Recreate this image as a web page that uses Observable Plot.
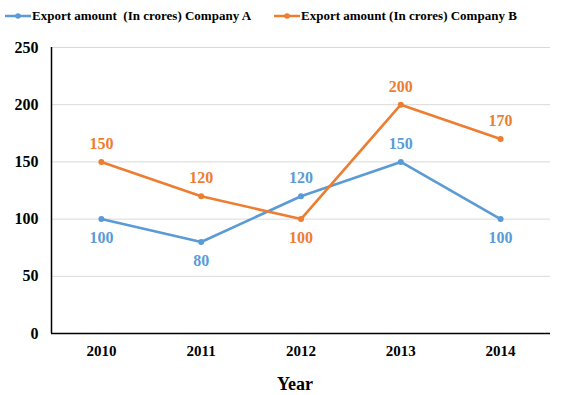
<!DOCTYPE html>
<html>
<head>
<meta charset="utf-8">
<script src="https://cdn.jsdelivr.net/npm/d3@7"></script>
<script src="https://cdn.jsdelivr.net/npm/@observablehq/plot@0.6"></script>
<style>
  body { margin: 0; background: #fff; }
  #wrap, #wrap * { font-family: 'Liberation Serif', 'Times New Roman', serif !important; }
  #wrap { width: 577px; height: 395px; position: relative; overflow: hidden; }
  .legend { height: 32px; position: relative; font-weight: bold; font-size: 13px; color: #000; }
  .item { position: absolute; top: 8px; display: flex; align-items: center; white-space: pre; }
  .sw { width: 26px; height: 16px; margin-right: 1px; }
  .xlabel { height: 28px; line-height: 28px; margin-top: 3px; text-align: center; font-weight: bold; font-size: 18px; padding-left: 13px; }
</style>
</head>
<body>
<div id="wrap">
  <div class="legend" id="legend"></div>
  <div id="chart"></div>
  <div class="xlabel">Year</div>
</div>
<script>
const years = [2010, 2011, 2012, 2013, 2014];
const companyA = [100, 80, 120, 150, 100];
const companyB = [150, 120, 100, 200, 170];
const seriesNames = ["Export amount  (In crores) Company A", "Export amount (In crores) Company B"];
const colors = ["#5B9BD5", "#ED7D31"];
// label placement: +1 below point, -1 above point
const labelPosA = [1, 1, -1, -1, 1];
const labelPosB = [-1, -1, 1, -1, -1];
const yTicks = [0, 50, 100, 150, 200, 250];

const rowsA = years.map((y, i) => ({year: y, value: companyA[i], pos: labelPosA[i]}));
const rowsB = years.map((y, i) => ({year: y, value: companyB[i], pos: labelPosB[i]}));

// legend
const legend = document.getElementById("legend");
const legendX = [5, 274];
seriesNames.forEach((name, i) => {
  const it = document.createElement("div");
  it.className = "item";
  it.style.left = legendX[i] + "px";
  it.innerHTML = `<svg class="sw" viewBox="0 0 26 16"><line x1="0" y1="8" x2="26" y2="8" stroke="${colors[i]}" stroke-width="2.5"/><circle cx="13" cy="8" r="2.8" fill="${colors[i]}"/></svg><span></span>`;
  it.querySelector("span").textContent = name;
  legend.appendChild(it);
});

const serif = "'Liberation Serif', 'Times New Roman', serif";
const font = {fontFamily: serif, fontWeight: "bold"};

function seriesMarks(rows, color) {
  return [
    Plot.line(rows, {x: "year", y: "value", stroke: color, strokeWidth: 2.6}),
    Plot.dot(rows, {x: "year", y: "value", fill: color, r: 3}),
    Plot.text(rows.filter(d => d.pos < 0), {x: "year", y: "value", text: d => String(d.value), fill: color, dy: -18, fontSize: 16, ...font}),
    Plot.text(rows.filter(d => d.pos > 0), {x: "year", y: "value", text: d => String(d.value), fill: color, dy: 19, fontSize: 16, ...font})
  ];
}

const chart = Plot.plot({
  width: 577,
  height: 335,
  marginTop: 15,
  marginBottom: 34,
  marginLeft: 51,
  marginRight: 27,
  style: `background: #fff; color: #000; font-family: ${serif};`,
  x: {domain: [2009.5, 2014.5], axis: null},
  y: {domain: [0, 250], axis: null},
  marks: [
    Plot.ruleY(yTicks.filter(v => v > 0), {stroke: "#d9d9d9", strokeWidth: 1}),
    Plot.axisY(yTicks, {tickSize: 0, tickPadding: 13, fontSize: 16, ...font, label: null, tickFormat: d => String(d)}),
    Plot.axisX(years, {tickSize: 0, tickPadding: 12, fontSize: 15, ...font, label: null, tickFormat: d => String(d)}),
    Plot.ruleX([2009.5], {stroke: "#000", strokeWidth: 1.5}),
    Plot.ruleY([0], {stroke: "#000", strokeWidth: 1.5}),
    ...seriesMarks(rowsA, colors[0]),
    ...seriesMarks(rowsB, colors[1])
  ]
});
document.getElementById("chart").appendChild(chart);
</script>
</body>
</html>
